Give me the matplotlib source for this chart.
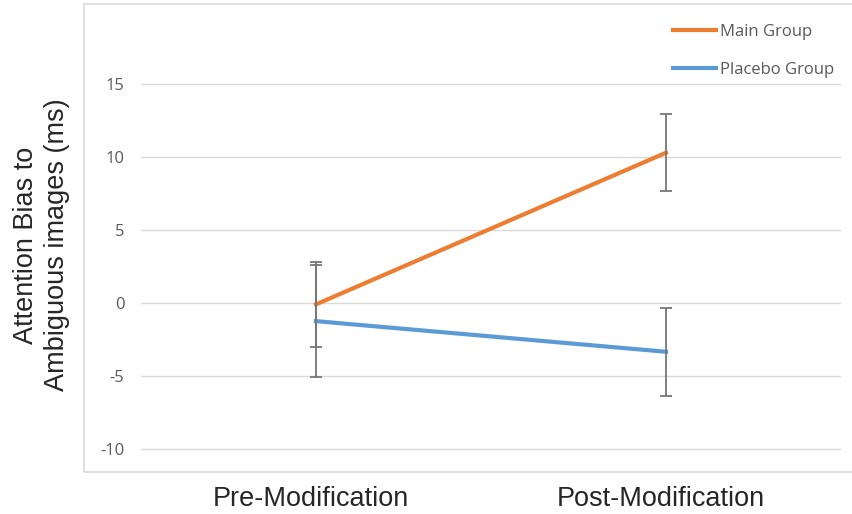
import matplotlib
matplotlib.use("Agg")
import matplotlib.pyplot as plt
from matplotlib.patches import Rectangle

# group means and error bar half-widths (ms)
phases = ["Pre-Modification", "Post-Modification"]
main_mean = [-0.1, 10.3]
main_err = [2.9, 2.65]
placebo_mean = [-1.25, -3.35]
placebo_err = [3.85, 3.0]
yticks = [-10, -5, 0, 5, 10, 15]

ORANGE = "#ED7D31"
BLUE = "#5B9BD5"
GRID = "#D9D9D9"
TXT = "#595959"

W, H = 853, 514
fig = plt.figure(figsize=(W / 100, H / 100), dpi=100)

# outer chart border
fig.patches.append(Rectangle((84 / W, 1 - 472 / H), 1.0, (472 - 4) / H,
                             transform=fig.transFigure, fill=False,
                             edgecolor=GRID, lw=1.2, zorder=0))

# plot area: y = 20 sits at 11.3 px, y = -10.3 at 453.1 px
ax = fig.add_axes([141 / W, 1 - 453.1 / H, 700 / W, (453.1 - 11.3) / H])
x = list(range(len(phases)))

ax.plot(x, main_mean, color=ORANGE, lw=3.0, label="Main Group", zorder=3)
ax.plot(x, placebo_mean, color=BLUE, lw=3.0, label="Placebo Group", zorder=3)
for m, e in ((main_mean, main_err), (placebo_mean, placebo_err)):
    ax.errorbar(x, m, yerr=e, fmt="none", ecolor="#767676", elinewidth=1.3,
                capsize=4.5, capthick=1.3, zorder=4)

ax.set_xlim(-0.5, 1.5)
ax.set_ylim(-10.3, 20)
ax.set_yticks(yticks)
ax.set_yticklabels([str(v) for v in yticks], family="Open Sans",
                   fontsize=12, color=TXT)
ax.set_xticks(x)
ax.set_xticklabels([])
ax.tick_params(axis="y", length=0, pad=12)
ax.tick_params(axis="x", length=0)
ax.grid(axis="y", color=GRID, lw=1.0)
ax.set_axisbelow(True)
for s in ax.spines.values():
    s.set_visible(False)

# category labels, set a little left of their points
for i, name in enumerate(phases):
    ax.annotate(name, xy=(x[i], 0), xycoords=("data", "axes fraction"),
                xytext=(-3.6, -33.2), textcoords="offset points",
                ha="center", va="center", family="Liberation Sans",
                fontsize=19.5, color="#262626", annotation_clip=False)

fig.text(42 / W, 1 - 245 / H, "Attention Bias to\nAmbiguous images (ms)",
         rotation=90, ha="center", va="center", family="Liberation Sans",
         fontsize=19.5, color="#262626", linespacing=1.25)

ax.legend(loc="upper left", bbox_to_anchor=(673 / W, 1 - 24 / H),
          bbox_transform=fig.transFigure, frameon=False, borderpad=0,
          borderaxespad=0, handlelength=2.6, handletextpad=0.2,
          labelspacing=1.3, prop={"family": "Open Sans", "size": 12},
          labelcolor=TXT)

fig.savefig("out.png", dpi=100)
